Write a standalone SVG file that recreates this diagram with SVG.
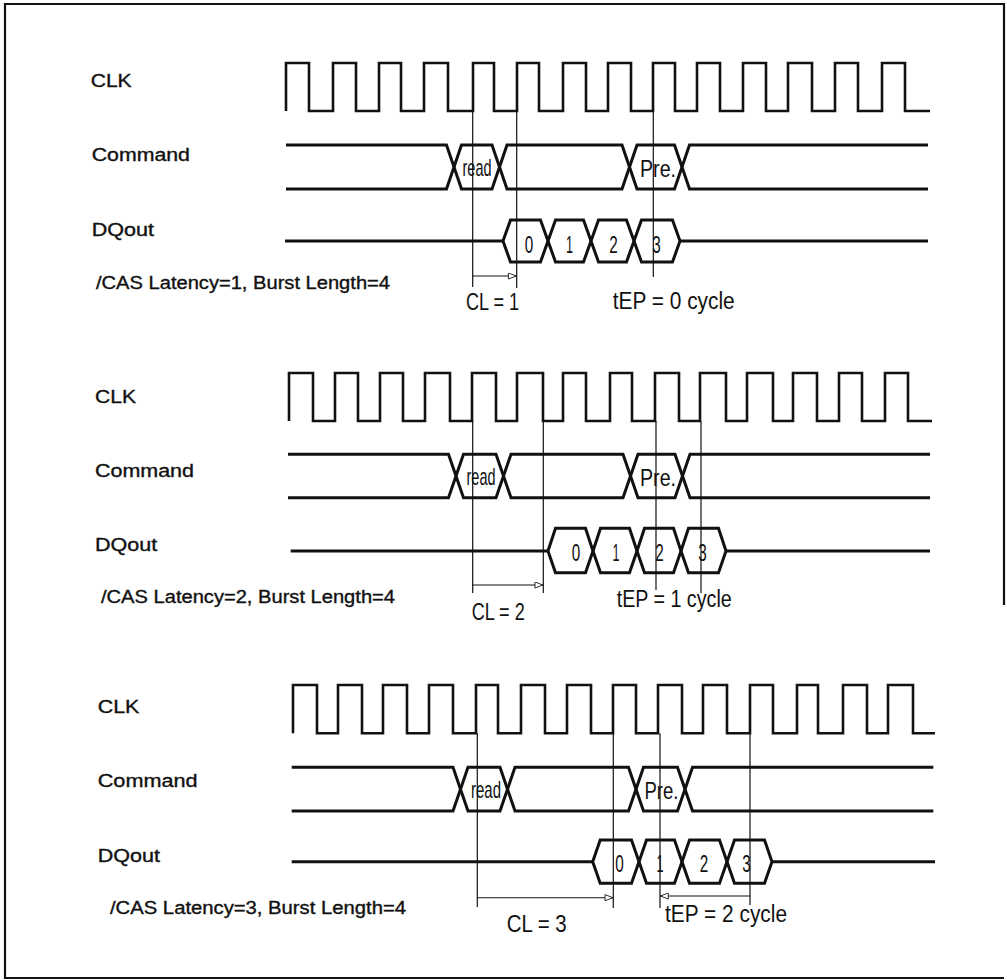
<svg xmlns="http://www.w3.org/2000/svg" width="1007" height="980" viewBox="0 0 1007 980">
<style>
  .bg{fill:#fff}
  .frame{fill:none;stroke:#111;stroke-width:2.2}
  .clk{fill:none;stroke:#111;stroke-width:2.6;stroke-linejoin:miter}
  .sig{fill:none;stroke:#111;stroke-width:3;stroke-linejoin:miter}
  .ref{fill:none;stroke:#111;stroke-width:1.2}
  .dim{fill:none;stroke:#111;stroke-width:1.1}
  .lbl{font-family:"Liberation Sans",Arial,sans-serif;font-size:17.5px;fill:#111;stroke:#111;stroke-width:0.35}
  .ann{font-family:"Liberation Sans",Arial,sans-serif;font-size:23px;fill:#111}
  .val{font-family:"Liberation Sans",Arial,sans-serif;font-size:24px;fill:#111;text-anchor:middle}
</style>
<defs>
  <marker id="ah" viewBox="0 0 10 8" refX="10" refY="4" markerWidth="10" markerHeight="7" markerUnits="userSpaceOnUse" orient="auto">
    <path d="M0.5,0.5 L9.5,4 L0.5,7.5 Z" fill="#fff" stroke="#111" stroke-width="1"/>
  </marker>
</defs>
<rect class="bg" x="0" y="0" width="1007" height="980"/>
<path class="frame" d="M1004,605 V4 H5 V978 H1004"/>

<!-- Panel 1 : CAS Latency = 1 -->
<g id="panel1">
  <g id="p1-labels">
    <text class="lbl" x="90.7" y="86.7" textLength="41" lengthAdjust="spacingAndGlyphs">CLK</text>
    <text class="lbl" x="91.7" y="161" textLength="98.3" lengthAdjust="spacingAndGlyphs">Command</text>
    <text class="lbl" x="91.7" y="235.7" textLength="62.3" lengthAdjust="spacingAndGlyphs">DQout</text>
    <text class="lbl" x="96" y="288.5" textLength="294" lengthAdjust="spacingAndGlyphs">/CAS Latency=1, Burst Length=4</text>
  </g>
  <g id="p1-clk">
    <path class="clk" d="M286,111 V63 H309 V111 H333 V63 H356 V111 H379 V63 H401 V111 H424 V63 H448 V111 H473 V63 H494 V111 H517 V63 H539 V111 H563 V63 H586 V111 H608 V63 H631 V111 H653 V63 H675 V111 H697 V63 H720 V111 H743 V63 H766 V111 H788 V63 H812 V111 H835 V63 H858 V111 H882 V63 H905 V111 H930"/>
  </g>
  <g id="p1-cmd">
    <path class="sig" d="M286,145 H446.5 L454,167 L446.5,189 H286"/>
    <path class="sig" d="M454,167 L461.5,145 H492 L499.5,167 L492,189 H461.5 Z"/>
    <path class="sig" d="M499.5,167 L507,145 H622 L629.5,167 L622,189 H507 Z"/>
    <path class="sig" d="M629.5,167 L637,145 H674.5 L682,167 L674.5,189 H637 Z"/>
    <path class="sig" d="M928,145 H689.5 L682,167 L689.5,189 H928"/>
    <text class="val" x="477" y="176" textLength="29" lengthAdjust="spacingAndGlyphs">read</text>
    <text class="val" x="658" y="177" textLength="36" lengthAdjust="spacingAndGlyphs">Pre.</text>
  </g>
  <g id="p1-dq">
    <path class="sig" d="M285,241 H503"/>
    <path class="sig" d="M503,241 L510.5,220 H540.5 L548,241 L540.5,262 H510.5 Z"/>
    <path class="sig" d="M548,241 L555.5,220 H583.5 L591,241 L583.5,262 H555.5 Z"/>
    <path class="sig" d="M591,241 L598.5,220 H626.5 L634,241 L626.5,262 H598.5 Z"/>
    <path class="sig" d="M634,241 L641.5,220 H672.5 L680,241 L672.5,262 H641.5 Z"/>
    <path class="sig" d="M680,241 H928"/>
    <text class="val" x="529" y="252.5" textLength="8.5" lengthAdjust="spacingAndGlyphs">0</text>
    <text class="val" x="569.5" y="252.5" textLength="7" lengthAdjust="spacingAndGlyphs">1</text>
    <text class="val" x="613.5" y="252.5" textLength="8.5" lengthAdjust="spacingAndGlyphs">2</text>
    <text class="val" x="656.5" y="252.5" textLength="8.5" lengthAdjust="spacingAndGlyphs">3</text>
  </g>
</g>

<!-- Panel 2 : CAS Latency = 2 -->
<g id="panel2">
  <g id="p2-labels">
    <text class="lbl" x="95" y="403.3" textLength="41" lengthAdjust="spacingAndGlyphs">CLK</text>
    <text class="lbl" x="95" y="477.3" textLength="99" lengthAdjust="spacingAndGlyphs">Command</text>
    <text class="lbl" x="95" y="551" textLength="62.3" lengthAdjust="spacingAndGlyphs">DQout</text>
    <text class="lbl" x="101" y="602.5" textLength="294" lengthAdjust="spacingAndGlyphs">/CAS Latency=2, Burst Length=4</text>
  </g>
  <g id="p2-clk">
    <path class="clk" d="M289,421 V373 H313 V421 H335 V373 H358 V421 H380 V373 H403 V421 H425 V373 H450 V421 H472 V373 H496 V421 H517 V373 H543 V421 H563 V373 H586 V421 H610 V373 H632 V421 H655 V373 H679 V421 H700 V373 H726 V421 H747 V373 H773 V421 H793 V373 H817 V421 H839 V373 H862 V421 H885 V373 H908 V421 H932"/>
  </g>
  <g id="p2-cmd">
    <path class="sig" d="M288,454.3 H448.5 L456,476 L448.5,497.7 H288"/>
    <path class="sig" d="M456,476 L463.5,454.3 H496 L503.5,476 L496,497.7 H463.5 Z"/>
    <path class="sig" d="M503.5,476 L511,454.3 H623 L630.5,476 L623,497.7 H511 Z"/>
    <path class="sig" d="M630.5,476 L638,454.3 H675 L682.5,476 L675,497.7 H638 Z"/>
    <path class="sig" d="M930,454.3 H690 L682.5,476 L690,497.7 H930"/>
    <text class="val" x="481" y="485" textLength="29" lengthAdjust="spacingAndGlyphs">read</text>
    <text class="val" x="658" y="486" textLength="36" lengthAdjust="spacingAndGlyphs">Pre.</text>
  </g>
  <g id="p2-dq">
    <path class="sig" d="M290.7,551 H548"/>
    <path class="sig" d="M548,551 L555.5,528.3 H585.5 L593,551 L585.5,572.7 H555.5 Z"/>
    <path class="sig" d="M593,551 L600.5,528.3 H629.5 L637,551 L629.5,572.7 H600.5 Z"/>
    <path class="sig" d="M637,551 L644.5,528.3 H673.5 L681,551 L673.5,572.7 H644.5 Z"/>
    <path class="sig" d="M681,551 L688.5,528.3 H718.5 L726,551 L718.5,572.7 H688.5 Z"/>
    <path class="sig" d="M726,551 H930"/>
    <text class="val" x="576" y="561" textLength="8.5" lengthAdjust="spacingAndGlyphs">0</text>
    <text class="val" x="616" y="561" textLength="7" lengthAdjust="spacingAndGlyphs">1</text>
    <text class="val" x="659.5" y="561" textLength="8.5" lengthAdjust="spacingAndGlyphs">2</text>
    <text class="val" x="702.5" y="561" textLength="8.5" lengthAdjust="spacingAndGlyphs">3</text>
  </g>
</g>

<!-- Panel 3 : CAS Latency = 3 -->
<g id="panel3">
  <g id="p3-labels">
    <text class="lbl" x="97.7" y="713.3" textLength="41.7" lengthAdjust="spacingAndGlyphs">CLK</text>
    <text class="lbl" x="97.7" y="786.7" textLength="100" lengthAdjust="spacingAndGlyphs">Command</text>
    <text class="lbl" x="97.7" y="861.7" textLength="62.3" lengthAdjust="spacingAndGlyphs">DQout</text>
    <text class="lbl" x="110" y="913.5" textLength="296" lengthAdjust="spacingAndGlyphs">/CAS Latency=3, Burst Length=4</text>
  </g>
  <g id="p3-clk">
    <path class="clk" d="M293,733.3 V685 H317 V733.3 H338 V685 H362 V733.3 H383 V685 H407 V733.3 H429 V685 H453 V733.3 H476 V685 H498 V733.3 H521 V685 H545 V733.3 H567 V685 H591 V733.3 H613 V685 H636 V733.3 H658 V685 H682 V733.3 H703 V685 H727 V733.3 H750 V685 H773 V733.3 H797 V685 H818 V733.3 H843 V685 H867 V733.3 H888 V685 H913 V733.3 H935"/>
  </g>
  <g id="p3-cmd">
    <path class="sig" d="M291.7,767.3 H453 L460.5,789.2 L453,811 H291.7"/>
    <path class="sig" d="M460.5,789.2 L468,767.3 H500 L507.5,789.2 L500,811 H468 Z"/>
    <path class="sig" d="M507.5,789.2 L515,767.3 H628.5 L636,789.2 L628.5,811 H515 Z"/>
    <path class="sig" d="M636,789.2 L643.5,767.3 H677.5 L685,789.2 L677.5,811 H643.5 Z"/>
    <path class="sig" d="M933.3,767.3 H692.5 L685,789.2 L692.5,811 H933.3"/>
    <text class="val" x="486" y="798" textLength="30" lengthAdjust="spacingAndGlyphs">read</text>
    <text class="val" x="661.5" y="799" textLength="34" lengthAdjust="spacingAndGlyphs">Pre.</text>
  </g>
  <g id="p3-dq">
    <path class="sig" d="M291.7,861.7 H592.7"/>
    <path class="sig" d="M592.7,861.7 L600.2,840 H631.5 L639,861.7 L631.5,883.3 H600.2 Z"/>
    <path class="sig" d="M639,861.7 L646.5,840 H674.5 L682,861.7 L674.5,883.3 H646.5 Z"/>
    <path class="sig" d="M682,861.7 L689.5,840 H719.5 L727,861.7 L719.5,883.3 H689.5 Z"/>
    <path class="sig" d="M727,861.7 L734.5,840 H764.5 L772,861.7 L764.5,883.3 H734.5 Z"/>
    <path class="sig" d="M772,861.7 H935"/>
    <text class="val" x="619.5" y="872" textLength="8.5" lengthAdjust="spacingAndGlyphs">0</text>
    <text class="val" x="660" y="872" textLength="7" lengthAdjust="spacingAndGlyphs">1</text>
    <text class="val" x="704" y="872" textLength="8.5" lengthAdjust="spacingAndGlyphs">2</text>
    <text class="val" x="746.5" y="872" textLength="8.5" lengthAdjust="spacingAndGlyphs">3</text>
  </g>
</g>

<!-- Timing reference lines, dimension arrows and their labels -->
<g id="connectors">
  <!-- panel 1 -->
  <line class="ref" x1="472.7" y1="111" x2="472.7" y2="287"/>
  <line class="ref" x1="516.7" y1="111" x2="516.7" y2="288"/>
  <line class="ref" x1="653.3" y1="111" x2="653.3" y2="277"/>
  <line class="dim" x1="472.7" y1="276" x2="516.7" y2="276" marker-end="url(#ah)"/>
  <text class="ann" x="466" y="310" textLength="53" lengthAdjust="spacingAndGlyphs">CL = 1</text>
  <text class="ann" x="612.7" y="308.5" textLength="122" lengthAdjust="spacingAndGlyphs">tEP = 0 cycle</text>
  <!-- panel 2 -->
  <line class="ref" x1="472.7" y1="421" x2="472.7" y2="593"/>
  <line class="ref" x1="543.3" y1="421" x2="543.3" y2="593"/>
  <line class="ref" x1="656" y1="421" x2="656" y2="590"/>
  <line class="ref" x1="701" y1="421" x2="701" y2="593"/>
  <line class="dim" x1="472.7" y1="585" x2="543.3" y2="585" marker-end="url(#ah)"/>
  <text class="ann" x="471.7" y="620" textLength="53" lengthAdjust="spacingAndGlyphs">CL = 2</text>
  <text class="ann" x="616.7" y="607" textLength="115" lengthAdjust="spacingAndGlyphs">tEP = 1 cycle</text>
  <!-- panel 3 -->
  <line class="ref" x1="477.3" y1="733.3" x2="477.3" y2="907"/>
  <line class="ref" x1="613.3" y1="733.3" x2="613.3" y2="908"/>
  <line class="ref" x1="660" y1="733.3" x2="660" y2="908"/>
  <line class="ref" x1="750" y1="733.3" x2="750" y2="905"/>
  <line class="dim" x1="477.3" y1="897.7" x2="613.3" y2="897.7" marker-end="url(#ah)"/>
  <line class="dim" x1="750" y1="896" x2="660" y2="896" marker-end="url(#ah)"/>
  <text class="ann" x="506.7" y="932" textLength="60" lengthAdjust="spacingAndGlyphs">CL = 3</text>
  <text class="ann" x="665" y="922" textLength="122" lengthAdjust="spacingAndGlyphs">tEP = 2 cycle</text>
</g>
</svg>
